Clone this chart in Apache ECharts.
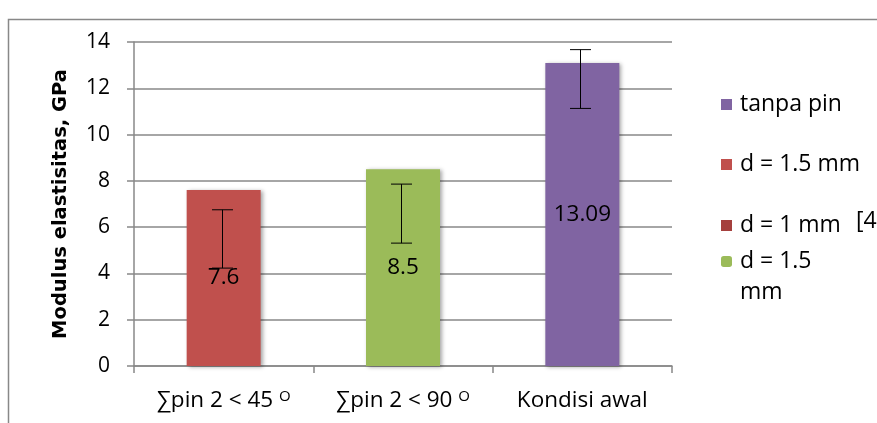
<!DOCTYPE html>
<html><head><meta charset="utf-8">
<script src="https://cdn.jsdelivr.net/npm/echarts@6/dist/echarts.min.js"></script>
<style>html,body{margin:0;padding:0;background:#fff}#c{width:877px;height:423px}</style>
</head><body><div id="c"></div>
<script>
const categories = ['∑pin 2 < 45', '∑pin 2 < 90', 'Kondisi awal'];
const catSup = ['O', 'O', ''];
const redVals = [7.6, '-', '-'];
const greenVals = ['-', 8.5, '-'];
const purpleVals = ['-', '-', 13.09];
const darkRedVals = ['-', '-', '-'];
const errLow = [4.23, 5.31, 11.13];
const errHigh = [6.75, 7.86, 13.67];
const yTicks = {min: 0, max: 14, interval: 2};
const legendNames = ['tanpa pin', 'd = 1.5 mm', 'd = 1 mm', 'd = 1.5 mm '];

const FONT = 'Open Sans';
const chart = echarts.init(document.getElementById('c'), null, {renderer: 'canvas'});
const barCommon = {
  type: 'bar', stack: 'one', barWidth: 74,
  label: {show: true, position: 'inside', color: '#000', fontFamily: FONT, fontSize: 22.5,
          formatter: p => String(p.value)},
};
const shadow = {shadowColor: 'rgba(0,0,0,0.35)', shadowBlur: 4, shadowOffsetX: 2, shadowOffsetY: 1};
const legendBase = {orient: 'vertical', icon: 'rect', itemWidth: 11, itemHeight: 11, itemGap: 0,
  textStyle: {fontFamily: FONT, fontSize: 23, color: '#000', padding: [0,0,0,3]}, selectedMode: false};

chart.setOption({
  animation: false,
  grid: {left: 134, right: 205, top: 42, bottom: 57},
  xAxis: {
    type: 'category', data: categories,
    axisLine: {lineStyle: {color: '#888', width: 1.5}},
    axisTick: {show: true, length: 7, lineStyle: {color: '#888', width: 1.5}},
    axisLabel: {margin: 23, interval: 0, color: '#000', fontFamily: FONT, fontSize: 22.5,
      formatter: (v, i) => catSup[i] ? v + ' {sup|' + catSup[i] + '}' : v,
      rich: {sup: {fontFamily: FONT, fontSize: 15, verticalAlign: 'top', color: '#000'}}}
  },
  yAxis: {
    type: 'value', min: yTicks.min, max: yTicks.max, interval: yTicks.interval,
    name: 'Modulus elastisitas, GPa', nameLocation: 'middle', nameGap: 63, nameRotate: 90,
    nameTextStyle: {fontFamily: 'DejaVu Sans', fontWeight: 'bold', fontSize: 19.5, color: '#000'},
    axisLine: {show: true, lineStyle: {color: '#888', width: 1.5}},
    axisTick: {show: true, length: 7, lineStyle: {color: '#888', width: 1.5}},
    splitLine: {lineStyle: {color: '#888', width: 1.5}},
    axisLabel: {margin: 24, color: '#000', fontFamily: FONT, fontSize: 21}
  },
  legend: [
    Object.assign({}, legendBase, {data: [legendNames[0]], left: 716, top: 88}),
    Object.assign({}, legendBase, {data: [legendNames[1]], left: 716, top: 148}),
    Object.assign({}, legendBase, {data: [legendNames[2]], left: 716, top: 209}),
    Object.assign({}, legendBase, {data: [{name: legendNames[3], icon: 'roundRect'}], left: 716, top: 245,
      formatter: () => 'd = 1.5'})
  ],
  graphic: [
    {type: 'rect', shape: {x: 8.5, y: 19.5, width: 1000, height: 1000}, style: {fill: 'none', stroke: '#888', lineWidth: 1.5}, silent: true},
    {type: 'text', left: 740, top: 281, style: {text: 'mm', fontFamily: FONT, fontSize: 23, fill: '#000'}},
    {type: 'text', left: 856, top: 210, style: {text: '[4', fontFamily: FONT, fontSize: 23, fill: '#000'}}
  ],
  series: [
    Object.assign({}, barCommon, {name: legendNames[1], data: redVals, itemStyle: Object.assign({color: '#C0504D'}, shadow)}),
    Object.assign({}, barCommon, {name: legendNames[3], data: greenVals, itemStyle: Object.assign({color: '#9BBB59'}, shadow)}),
    Object.assign({}, barCommon, {name: legendNames[0], data: purpleVals, itemStyle: Object.assign({color: '#8064A2'}, shadow)}),
    Object.assign({}, barCommon, {name: legendNames[2], data: darkRedVals, itemStyle: {color: '#A5403D'}}),
    {
      type: 'custom', name: 'err', z: 10,
      data: categories.map((c, i) => [i, errLow[i], errHigh[i]]),
      renderItem: (params, api) => {
        const lo = api.coord([api.value(0), api.value(1)]);
        const hi = api.coord([api.value(0), api.value(2)]);
        const x = Math.round(lo[0]) - 1.5, hw = 10.5;
        const st = {stroke: '#000', lineWidth: 1};
        return {type: 'group', children: [
          {type: 'line', shape: {x1: x, y1: hi[1], x2: x, y2: lo[1]}, style: st},
          {type: 'line', shape: {x1: x - hw, y1: hi[1], x2: x + hw, y2: hi[1]}, style: st},
          {type: 'line', shape: {x1: x - hw, y1: lo[1], x2: x + hw, y2: lo[1]}, style: st}
        ]};
      }
    }
  ]
});
</script></body></html>
